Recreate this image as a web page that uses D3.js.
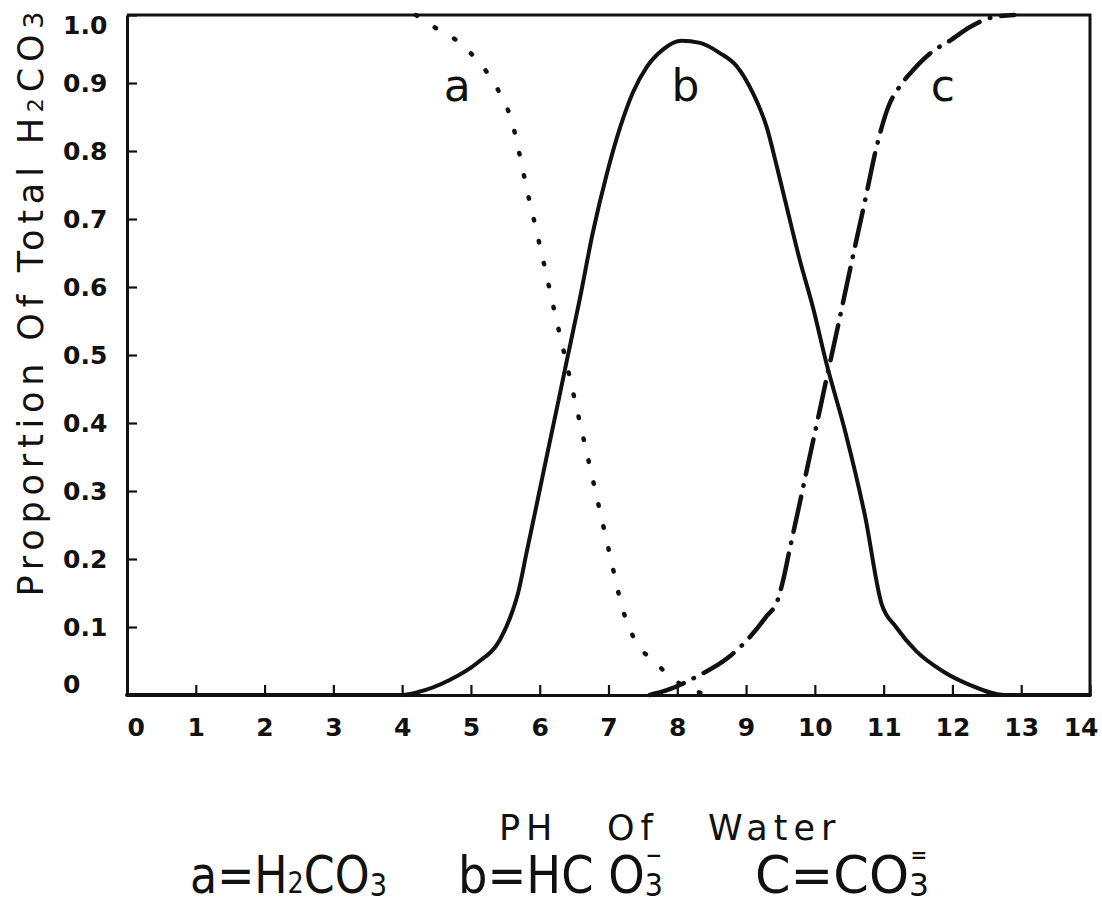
<!DOCTYPE html>
<html>
<head>
<meta charset="utf-8">
<script src="https://cdn.jsdelivr.net/npm/d3@7"></script>
<style>
  body { margin: 0; background: #fff; }
  svg text { fill: #111; }
</style>
</head>
<body>
<svg id="chart" width="1102" height="901"></svg>
<script>
// ---- axis ticks -------------------------------------------------------
const phTicks = d3.range(0, 15);
const phTickLabels = ["0","1","2","3","4","5","6","7","8","9","10","11","12","13","14"];
const fracTicks = [0, 0.1, 0.2, 0.3, 0.4, 0.5, 0.6, 0.7, 0.8, 0.9, 1.0];
const fracTickLabels = ["0","0.1","0.2","0.3","0.4","0.5","0.6","0.7","0.8","0.9","1.0"];

// ---- curve a : H2CO3 (dotted) ----------------------------------------
const pH_a   = [4.2, 4.5, 4.8, 5.06, 5.28, 5.42, 5.52, 5.61, 5.67, 5.74, 5.81, 5.9, 5.99, 6.08, 6.21, 6.38, 6.53, 6.72, 6.89, 7.03, 7.19, 7.41, 7.65, 7.91, 8.31, 8.6];
const frac_a = [1, 0.98, 0.962, 0.937, 0.909, 0.885, 0.865, 0.838, 0.812, 0.779, 0.745, 0.706, 0.666, 0.626, 0.566, 0.492, 0.425, 0.34, 0.264, 0.202, 0.132, 0.076, 0.051, 0.026, 0.004, 0];

// ---- curve b : HCO3- (solid) -----------------------------------------
const pH_b   = [0, 3.97, 4.22, 4.69, 5.09, 5.42, 5.61, 5.69, 5.81, 5.96, 6.1, 6.25, 6.38, 6.58, 6.77, 6.98, 7.17, 7.35, 7.56, 7.79, 8.06, 8.33, 8.62, 8.87, 9.1, 9.3, 9.45, 9.59, 9.78, 9.97, 10.17, 10.44, 10.73, 10.97, 11.18, 11.47, 11.86, 12.25, 12.76, 14];
const frac_b = [0, 0, 0.004, 0.022, 0.047, 0.081, 0.125, 0.152, 0.21, 0.282, 0.35, 0.422, 0.485, 0.581, 0.679, 0.768, 0.835, 0.885, 0.924, 0.949, 0.962, 0.959, 0.944, 0.924, 0.885, 0.835, 0.776, 0.718, 0.64, 0.571, 0.487, 0.388, 0.263, 0.134, 0.1, 0.065, 0.035, 0.015, 0, 0];

// ---- curve c : CO3= (dash-dot) ---------------------------------------
const pH_c   = [7.6, 7.85, 8.28, 8.74, 9.07, 9.29, 9.46, 9.53, 9.64, 9.78, 9.9, 10.04, 10.19, 10.29, 10.54, 10.74, 10.89, 11.08, 11.22, 11.42, 11.72, 11.96, 12.25, 12.56, 12.9];
const frac_c = [0, 0.007, 0.027, 0.055, 0.087, 0.115, 0.14, 0.165, 0.217, 0.282, 0.339, 0.404, 0.475, 0.521, 0.639, 0.732, 0.803, 0.868, 0.893, 0.918, 0.947, 0.962, 0.982, 0.996, 1];

// ---- curve letters -----------------------------------------------------
const curveNames = ["a", "b", "c"];
const curveNamePH = [4.8, 8.12, 11.86];
const curveNameFrac = [0.874, 0.874, 0.874];

const FONT = "'DejaVu Sans', 'Noto Sans', sans-serif";
const svg = d3.select("#chart");

const x = d3.scaleLinear().domain([0, 14]).range([127, 1090]);
const y = d3.scaleLinear().domain([0, 1]).range([695, 15]);

// frame: top and right edges
svg.append("path")
  .attr("d", `M${x(0)},${y(1)}H${x(14)}V${y(0)}`)
  .attr("fill", "none").attr("stroke", "#111").attr("stroke-width", 3);

// x axis (ticks point inward, labels below)
const xAxis = d3.axisBottom(x)
  .tickValues(phTicks)
  .tickFormat((d, i) => phTickLabels[i])
  .tickSizeInner(-10).tickSizeOuter(0).tickPadding(23);

svg.append("g")
  .attr("transform", `translate(0,${y(0)})`)
  .call(xAxis)
  .call(g => {
    g.select(".domain").attr("stroke", "#111").attr("stroke-width", 3);
    g.selectAll(".tick line").attr("stroke", "#111").attr("stroke-width", 2.2);
    g.selectAll(".tick text")
      .attr("font-family", FONT).attr("font-size", 25).attr("font-weight", "bold")
      .attr("fill", "#111")
      .attr("text-anchor", d => d === 0 ? "start" : d === 14 ? "end" : "middle")
      .attr("x", d => d === 14 ? 8 : 0);
  });

// y axis (ticks point inward, labels left-aligned in a column)
const yAxis = d3.axisLeft(y)
  .tickValues(fracTicks)
  .tickFormat((d, i) => fracTickLabels[i])
  .tickSizeInner(-10).tickSizeOuter(0).tickPadding(10);

svg.append("g")
  .attr("transform", `translate(${x(0)},0)`)
  .call(yAxis)
  .call(g => {
    g.select(".domain").attr("stroke", "#111").attr("stroke-width", 3);
    g.selectAll(".tick line").attr("stroke", "#111").attr("stroke-width", 2.2);
    g.selectAll(".tick text")
      .attr("font-family", FONT).attr("font-size", 25).attr("font-weight", "bold")
      .attr("fill", "#111")
      .attr("text-anchor", "start")
      .attr("x", 63 - x(0))
      .attr("dy", d => d === 1 ? "0.72em" : d === 0 ? "-0.1em" : "0.32em");
  });

// curves
const line = d3.line()
  .x(d => x(d[0]))
  .y(d => y(d[1]))
  .curve(d3.curveMonotoneX);

const series = [
  { pts: d3.zip(pH_a, frac_a), width: 4.5, dash: "1.5 21" },
  { pts: d3.zip(pH_b, frac_b), width: 4, dash: null },
  { pts: d3.zip(pH_c, frac_c), width: 4.5, dash: "36 11 0.5 11" }
];

svg.append("g").selectAll("path")
  .data(series)
  .join("path")
  .attr("d", d => line(d.pts))
  .attr("fill", "none")
  .attr("stroke", "#111")
  .attr("stroke-width", d => d.width)
  .attr("stroke-linecap", "round")
  .attr("stroke-linejoin", "round")
  .attr("stroke-dasharray", d => d.dash);

// curve letters
svg.append("g").selectAll("text")
  .data(curveNames)
  .join("text")
  .attr("x", (d, i) => x(curveNamePH[i]))
  .attr("y", (d, i) => y(curveNameFrac[i]))
  .attr("text-anchor", "middle")
  .attr("font-family", FONT).attr("font-size", 44)
  .text(d => d);

// y axis title
const yTitle = svg.append("text")
  .attr("transform", "translate(43,304) rotate(-90)")
  .attr("text-anchor", "middle")
  .attr("font-family", FONT).attr("font-size", 35)
  .attr("textLength", 585).attr("lengthAdjust", "spacing");
yTitle.append("tspan").text("Proportion Of Total H");
yTitle.append("tspan").attr("font-size", 22).text("2");
yTitle.append("tspan").attr("font-size", 35).text("CO");
yTitle.append("tspan").attr("font-size", 27).text("3");

// x axis title: three words, each placed on its own
const xTitle = svg.append("text")
  .attr("y", 840)
  .attr("font-family", FONT).attr("font-size", 35)
  .attr("letter-spacing", 6);
[["PH", 499], ["Of", 607], ["Water", 708]].forEach(([w, px]) => {
  xTitle.append("tspan").attr("x", px).text(w);
});

// species key below the chart (glyphs narrowed horizontally)
const keyItems = [
  { x: 190, len: 197, parts: [["a=H", 52, 0], ["2", 30, 0], ["CO", 52, 0], ["3", 32, 3]], charge: null },
  { x: 458, len: 205, parts: [["b=HC O", 52, 0], ["3", 32, 3]], charge: "\u2212" },
  { x: 755, len: 174, parts: [["C=CO", 52, 0], ["3", 32, 3]], charge: "=" }
];
const keyBase = 893;
keyItems.forEach(item => {
  const g = svg.append("g").attr("transform", `translate(${item.x},${keyBase})`);
  const t = g.append("text")
    .attr("font-family", FONT)
    .style("white-space", "pre");
  item.parts.forEach(([s, size, shift]) => {
    t.append("tspan").attr("font-size", size).attr("y", shift).text(s);
  });
  const node = t.node();
  const sx = item.len / node.getComputedTextLength();
  t.attr("transform", `scale(${sx},1)`);
  if (item.charge) {
    const box = node.getExtentOfChar(node.getNumberOfChars() - 1);
    g.append("text")
      .attr("x", (box.x + box.width / 2) * sx)
      .attr("y", -31)
      .attr("text-anchor", "middle")
      .attr("font-family", FONT).attr("font-size", 20).attr("font-weight", "bold")
      .text(item.charge);
  }
});
</script>
</body>
</html>
